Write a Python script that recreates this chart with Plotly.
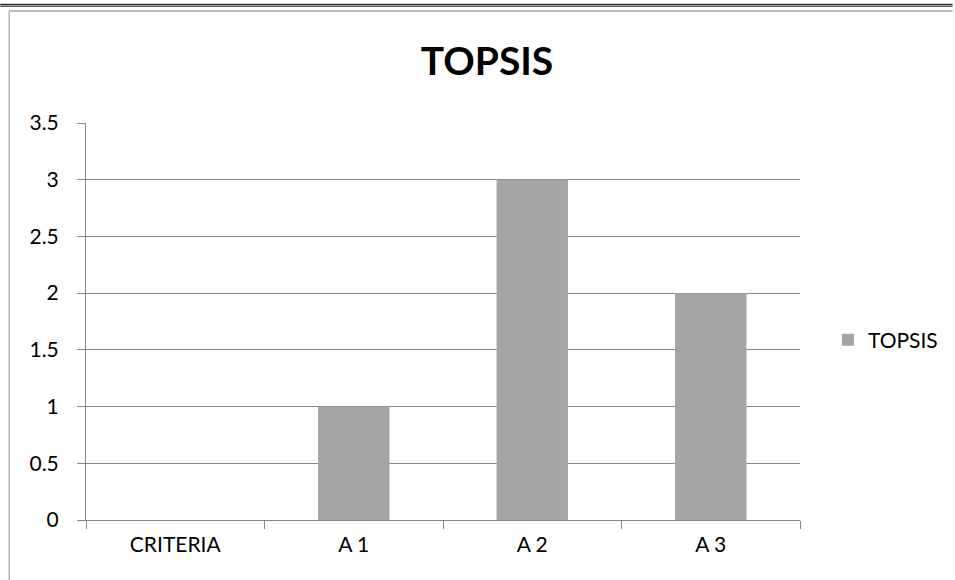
import plotly.graph_objects as go

categories = ["CRITERIA", "A 1", "A 2", "A 3"]
topsis_values = [0, 1, 3, 2]
y_ticks = [0, 0.5, 1, 1.5, 2, 2.5, 3, 3.5]
y_tick_labels = ["0", "0.5", "1", "1.5", "2", "2.5", "3", "3.5"]

FONT = "Lato, sans-serif"

fig = go.Figure()
fig.add_trace(go.Bar(
    x=categories, y=topsis_values, name="TOPSIS",
    marker=dict(color="#A5A5A5", line=dict(width=0)),
    width=0.4,
))

# plot area in px: x 86..802, y 123..520
L, R, T, B = 86, 802, 123, 520
W, H = 955, 580
pw, ph = R - L, B - T

def px(x):
    return (x - L) / pw

def py(y):
    return (B - y) / ph

shapes = [
    # document header double rule
    dict(type="line", xref="paper", yref="paper", x0=px(0), x1=px(W), y0=py(4.6), y1=py(4.6),
         line=dict(color="#303030", width=1.6)),
    dict(type="line", xref="paper", yref="paper", x0=px(0), x1=px(W), y0=py(6.5), y1=py(6.5),
         line=dict(color="#505050", width=0.9)),
    # chart frame
    dict(type="line", xref="paper", yref="paper", x0=px(9), x1=px(W), y0=py(11), y1=py(11),
         line=dict(color="#A6A6A6", width=1.3)),
    dict(type="line", xref="paper", yref="paper", x0=px(9), x1=px(9), y0=py(11), y1=py(H + 5),
         line=dict(color="#A6A6A6", width=1.3)),
]

fig.update_layout(
    width=W, height=H,
    margin=dict(l=L, r=W - R, t=T, b=H - B),
    paper_bgcolor="white", plot_bgcolor="white",
    title=dict(text="<b>TOPSIS</b>", x=487 / W, xanchor="center", y=1 - 61 / H, yanchor="middle",
               font=dict(family=FONT, size=39, color="black")),
    font=dict(family=FONT, size=21, color="black"),
    showlegend=True,
    legend=dict(x=px(830), y=py(340), xanchor="left", yanchor="middle",
                font=dict(family=FONT, size=21, color="black"), itemwidth=30,
                bgcolor="rgba(0,0,0,0)"),
    bargap=0.6,
    shapes=shapes,
)
fig.update_xaxes(
    showline=True, linecolor="#868686", linewidth=1,
    ticks="outside", ticklen=8, tickcolor="#868686", tickson="boundaries",
    showgrid=False, tickfont=dict(family=FONT, size=21), ticklabelstandoff=6,
)
fig.update_yaxes(
    range=[0, 3.5], tickvals=y_ticks, ticktext=y_tick_labels,
    showline=True, linecolor="#868686", linewidth=1,
    ticks="outside", ticklen=8, tickcolor="#868686",
    showgrid=True, gridcolor="#868686", gridwidth=1,
    zeroline=False, tickfont=dict(family=FONT, size=21), ticklabelstandoff=14,
)

fig.write_html("out.html", config={"displayModeBar": False},
               post_script="document.body.style.margin='0';")
